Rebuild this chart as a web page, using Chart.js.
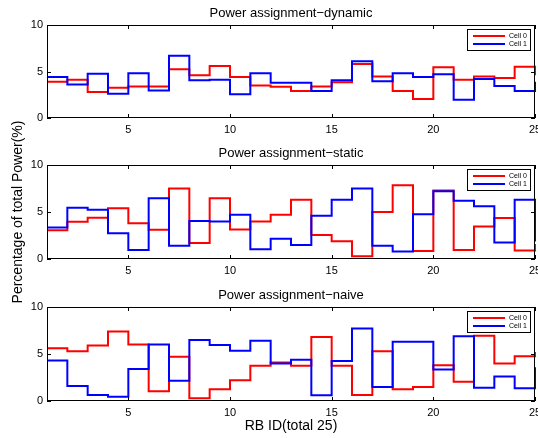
<!DOCTYPE html>
<html>
<head>
<meta charset="utf-8">
<script src="https://cdn.jsdelivr.net/npm/chart.js@4.4.0/dist/chart.umd.min.js"></script>
<style>
  html, body { margin: 0; padding: 0; background: #fff; }
  #wrap { position: relative; width: 538px; height: 438px; }
  canvas { position: absolute; left: 0; top: 0; }
</style>
</head>
<body>
<div id="wrap">
  <canvas id="dyn" width="538" height="438"></canvas>
  <canvas id="sta" width="538" height="438"></canvas>
  <canvas id="nai" width="538" height="438"></canvas>
</div>
<script>
// data
const rbIds = [1, 2, 3, 4, 5, 6, 7, 8, 9, 10, 11, 12, 13, 14, 15, 16, 17, 18, 19, 20, 21, 22, 23, 24, 25]
const xTickValues = [5, 10, 15, 20, 25]
const yTickValues = [0, 5, 10]
const seriesNames = ['Cell 0', 'Cell 1']
const panelTitles = ['Power assignment\u2212dynamic', 'Power assignment\u2212static', 'Power assignment\u2212naive']
const yLabel = 'Percentage of total Power(%)'
const xLabel = 'RB ID(total 25)'

const dynamicCell0 = [3.9, 4.1, 2.8, 3.25, 3.4, 3.4, 5.25, 4.6, 5.6, 4.4, 3.5, 3.35, 2.9, 3.4, 3.85, 5.8, 4.45, 2.9, 2.05, 5.45, 4.1, 4.45, 4.3, 5.5, 4.6]
const dynamicCell1 = [4.4, 3.6, 4.75, 2.6, 4.8, 2.95, 6.7, 4.05, 4.1, 2.55, 4.8, 3.8, 3.8, 2.9, 4.05, 6.1, 3.95, 4.8, 4.4, 4.7, 1.95, 4.2, 3.45, 2.9, 3.9]
const staticCell0 = [3.05, 3.95, 4.4, 5.4, 3.8, 3.1, 7.5, 1.7, 6.45, 3.15, 4.0, 4.7, 6.3, 2.55, 1.9, 0.3, 5.0, 7.85, 0.85, 7.3, 0.95, 3.45, 4.35, 0.9, 1.6]
const staticCell1 = [3.35, 5.45, 5.25, 2.75, 0.95, 6.45, 1.4, 4.05, 4.0, 4.7, 1.05, 2.15, 1.5, 4.6, 6.3, 7.5, 1.4, 0.8, 4.75, 7.2, 6.2, 5.6, 1.75, 6.3, 1.85]
const naiveCell0 = [5.6, 5.3, 5.9, 7.4, 6.0, 1.05, 4.7, 0.3, 1.25, 2.2, 3.75, 4.1, 3.75, 6.8, 3.75, 0.65, 5.3, 1.25, 1.5, 3.8, 2.05, 6.95, 4.0, 4.75, 5.2]
const naiveCell1 = [4.3, 1.6, 0.65, 0.45, 3.4, 6.0, 2.15, 6.5, 5.95, 5.35, 6.4, 4.0, 4.4, 0.6, 4.25, 7.7, 1.5, 6.3, 6.3, 3.35, 6.9, 1.4, 2.6, 1.35, 3.6]

Chart.defaults.font.family = '"Liberation Sans", Arial, sans-serif'
Chart.defaults.color = '#000'

// matlab style box, inward ticks and small boxed legend
const matlabBox = {
	id: 'matlabBox',
	afterDatasetsDraw(chart) {
		const { ctx, chartArea: a, scales } = chart
		const tl = 4
		ctx.save()
		ctx.strokeStyle = '#000'
		ctx.lineWidth = 1
		ctx.beginPath()
		scales.x.ticks.forEach(t => {
			const px = Math.round(scales.x.getPixelForValue(t.value)) + 0.5
			ctx.moveTo(px, a.bottom); ctx.lineTo(px, a.bottom - tl)
			ctx.moveTo(px, a.top); ctx.lineTo(px, a.top + tl)
		})
		scales.y.ticks.forEach(t => {
			const py = Math.round(scales.y.getPixelForValue(t.value)) + 0.5
			ctx.moveTo(a.left, py); ctx.lineTo(a.left + tl, py)
			ctx.moveTo(a.right, py); ctx.lineTo(a.right - tl, py)
		})
		ctx.stroke()
		ctx.strokeRect(a.left + 0.5, a.top + 0.5, a.width - 1, a.height - 1)

		// legend
		const lw = 63, lh = 21
		const lx = Math.round(a.right - 5 - lw), ly = Math.round(a.top + 4)
		ctx.fillStyle = '#fff'
		ctx.fillRect(lx, ly, lw, lh)
		ctx.strokeRect(lx + 0.5, ly + 0.5, lw, lh)
		ctx.font = '7px "Liberation Sans", Arial, sans-serif'
		ctx.textBaseline = 'middle'
		chart.data.datasets.forEach((ds, i) => {
			const yy = ly + 7 + i * 8
			ctx.strokeStyle = ds.borderColor
			ctx.lineWidth = 2
			ctx.beginPath()
			ctx.moveTo(lx + 6, yy); ctx.lineTo(lx + 38, yy)
			ctx.stroke()
			ctx.fillStyle = '#000'
			ctx.fillText(ds.label, lx + 42, yy)
		})
		ctx.restore()
	}
}

function makePanel(id, title, cell0, cell1, geo) {
	const toPts = arr => rbIds.map((x, i) => ({ x: x, y: arr[i] }))
	return new Chart(document.getElementById(id), {
		type: 'line',
		data: {
			datasets: [
				{ label: seriesNames[0], data: toPts(cell0), borderColor: '#ff0000', borderWidth: 2, stepped: true, pointRadius: 0, clip: false, order: 1 },
				{ label: seriesNames[1], data: toPts(cell1), borderColor: '#0000ff', borderWidth: 2, stepped: true, pointRadius: 0, clip: false, order: 0 }
			]
		},
		options: {
			responsive: false,
			animation: false,
			events: [],
			layout: { padding: { left: 0, right: 3, top: geo.padTop, bottom: geo.padBottom } },
			plugins: {
				legend: { display: false },
				tooltip: { enabled: false },
				title: {
					display: true,
					text: title,
					fullSize: false,
					font: { size: 13, weight: 'normal' },
					padding: { top: 6, bottom: 3.4 }
				}
			},
			scales: {
				x: {
					type: 'linear',
					min: 1,
					max: 25,
					grid: { display: false, drawTicks: false },
					border: { display: false },
					afterBuildTicks: s => { s.ticks = xTickValues.map(v => ({ value: v })) },
					afterFit: s => { s.height = geo.xHeight; s.paddingLeft = 0; s.paddingRight = 0 },
					ticks: { font: { size: 11 }, padding: 5, autoSkip: false, maxRotation: 0, callback: v => String(v) },
					title: { display: !!geo.xTitle, text: xLabel, font: { size: 14 }, padding: { top: 0, bottom: 3 } }
				},
				y: {
					min: 0,
					max: 10,
					grid: { display: false, drawTicks: false },
					border: { display: false },
					afterBuildTicks: s => { s.ticks = yTickValues.map(v => ({ value: v })) },
					afterFit: s => { s.width = 47; s.paddingTop = 0; s.paddingBottom = 0 },
					ticks: { font: { size: 11 }, padding: 4, callback: v => String(v) },
					title: { display: !!geo.yTitle, text: yLabel, font: { size: 14 }, padding: { top: 10, bottom: 0 } }
				}
			}
		},
		plugins: [matlabBox]
	})
}

makePanel('dyn', panelTitles[0], dynamicCell0, dynamicCell1, { padTop: 0, padBottom: 298, xHeight: 22 })
makePanel('sta', panelTitles[1], staticCell0, staticCell1, { padTop: 140, padBottom: 157, xHeight: 22, yTitle: true })
makePanel('nai', panelTitles[2], naiveCell0, naiveCell1, { padTop: 282, padBottom: 0, xHeight: 37, xTitle: true })
</script>
</body>
</html>
